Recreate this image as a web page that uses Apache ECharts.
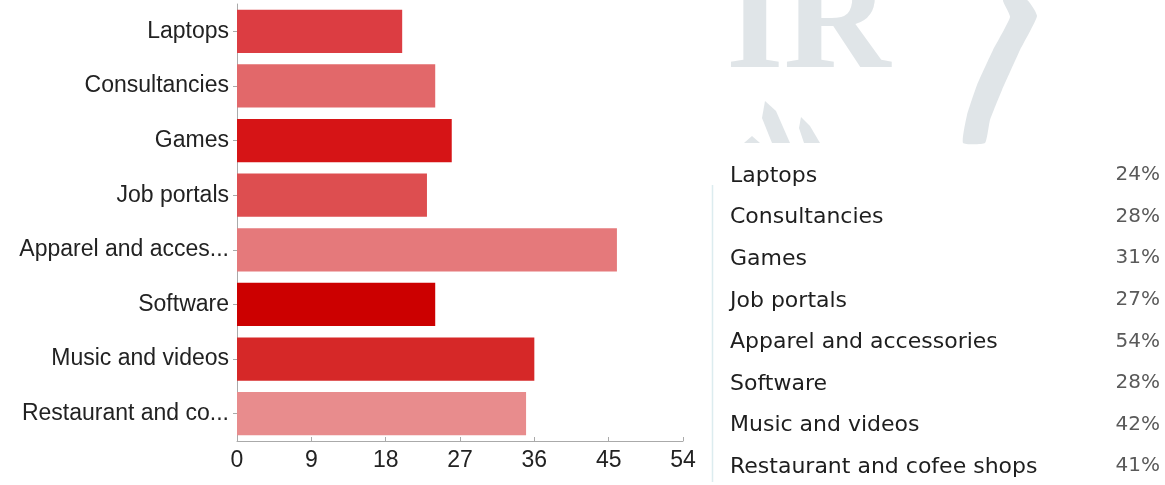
<!DOCTYPE html>
<html>
<head>
<meta charset="utf-8">
<script src="https://cdn.jsdelivr.net/npm/echarts@6/dist/echarts.min.js"></script>
<style>
  html, body { margin: 0; padding: 0; background: #fff; }
  #chart { width: 1165px; height: 485px; }
</style>
</head>
<body>
<div id="chart"></div>
<script>
// Survey answers: number of respondents per category
const categories = [
  'Laptops', 'Consultancies', 'Games', 'Job portals',
  'Apparel and accessories', 'Software', 'Music and videos',
  'Restaurant and cofee shops'
];
const counts = [20, 24, 26, 23, 46, 24, 36, 35];
const percents = ['24%', '28%', '31%', '27%', '54%', '28%', '42%', '41%'];
const barColors = ['#dc3d42', '#e2686a', '#d61416', '#dd4e50', '#e5797b', '#cc0000', '#d62828', '#e88c8d'];
const xTicks = { min: 0, max: 54, interval: 9 };

const chart = echarts.init(document.getElementById('chart'), null, { renderer: 'canvas' });

const LABEL_FONT = '"Liberation Sans", Arial, sans-serif';
const TABLE_FONT = '"DejaVu Sans", Verdana, sans-serif';
const WM = '#e0e5e8';

// Summary table on the right: name on the left, share on the right
const tableTop = 176, rowStep = 41.6;
const tableItems = [];
categories.forEach((name, i) => {
  const y = tableTop + i * rowStep;
  tableItems.push({
    type: 'text', left: 730, top: y - 11,
    style: { text: name, font: '22px ' + TABLE_FONT, fill: '#1e1e1e', textVerticalAlign: 'top' }
  });
  tableItems.push({
    type: 'text', right: 5, top: y - 11,
    style: { text: percents[i], font: '20px ' + TABLE_FONT, fill: '#5a5a5a', textAlign: 'right', textVerticalAlign: 'top' }
  });
});

// Faded emblem behind the top right corner
const emblem = [
  {
    type: 'text', left: 726, top: -45, z: -1,
    style: { text: 'IR', font: 'bold 148px "Liberation Serif", "DejaVu Serif", serif', fill: WM }
  },
  {
    type: 'polygon', z: -1,
    shape: {
      points: [[1003, 0], [1027, 0], [1037, 16], [1020, 50], [1002, 90], [990, 120], [985, 143],
               [963, 143], [967, 115], [977, 85], [993, 50], [1010, 17]],
      smooth: 0.15
    },
    style: { fill: WM }
  },
  {
    type: 'polygon', z: -1,
    shape: { points: [[765, 101], [776, 111], [790, 143], [772, 143], [762, 118]] },
    style: { fill: WM }
  },
  {
    type: 'polygon', z: -1,
    shape: { points: [[801, 117], [810, 126], [820, 143], [804, 143], [799, 128]] },
    style: { fill: WM }
  },
  {
    type: 'polygon', z: -1,
    shape: { points: [[744, 143], [752, 136], [760, 143]] },
    style: { fill: WM }
  },
  {
    type: 'line', z: -1,
    shape: { x1: 712.5, y1: 185, x2: 712.5, y2: 482 },
    style: { stroke: '#dcecef', lineWidth: 1.5 }
  }
];

chart.setOption({
  animation: false,
  backgroundColor: '#fff',
  grid: { left: 237, right: 482, top: 4, bottom: 44, containLabel: false },
  xAxis: {
    type: 'value',
    min: xTicks.min, max: xTicks.max, interval: xTicks.interval,
    axisLine: { show: true, lineStyle: { color: '#aaa', width: 1 } },
    axisTick: { show: true, inside: true, length: 4, lineStyle: { color: '#aaa' } },
    splitLine: { show: false },
    axisLabel: { color: '#222', fontFamily: LABEL_FONT, fontSize: 23, margin: 8 }
  },
  yAxis: {
    type: 'category',
    data: categories,
    inverse: true,
    axisLine: { show: true, lineStyle: { color: '#aaa', width: 1 } },
    axisTick: { show: true, alignWithLabel: true, length: 4, lineStyle: { color: '#aaa' } },
    axisLabel: {
      color: '#222', fontFamily: LABEL_FONT, fontSize: 23, margin: 8,
      formatter: v => (v.length > 18 ? v.slice(0, 17) + '...' : v)
    }
  },
  series: [{
    type: 'bar',
    data: counts.map((v, i) => ({ value: v, itemStyle: { color: barColors[i] } })),
    barCategoryGap: '21%'
  }],
  graphic: { elements: emblem.concat(tableItems) }
});
</script>
</body>
</html>
